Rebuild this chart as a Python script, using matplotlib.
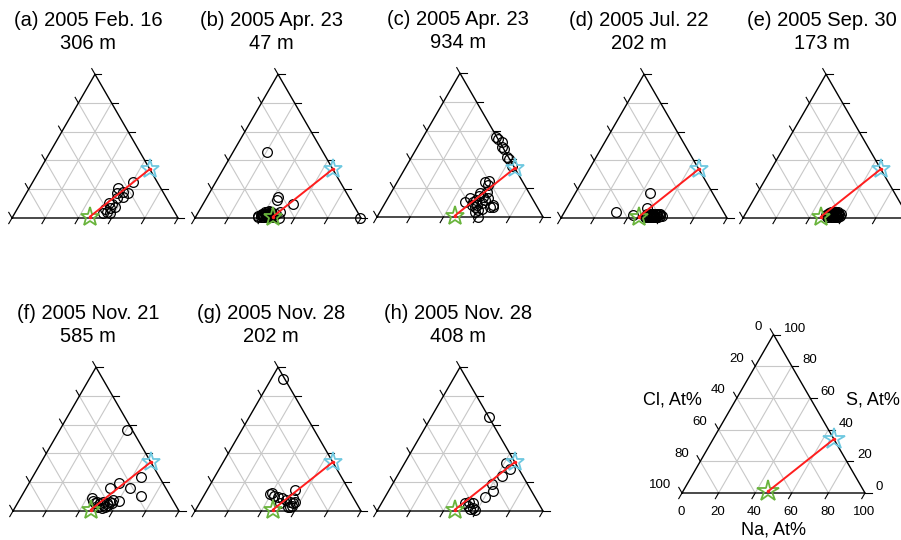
import numpy as np
import matplotlib.pyplot as plt

plt.rcParams['font.family'] = ['Liberation Sans', 'DejaVu Sans']

H = np.sqrt(3) / 2

# end members, Na and S in At%
nacl = (46.5, 1.0)
na2so4 = (66.0, 34.0)

titles = ["(a) 2005 Feb. 16", "(b) 2005 Apr. 23", "(c) 2005 Apr. 23", "(d) 2005 Jul. 22",
          "(e) 2005 Sep. 30", "(f) 2005 Nov. 21", "(g) 2005 Nov. 28", "(h) 2005 Nov. 28"]
depths = ["306 m", "47 m", "934 m", "202 m", "173 m", "585 m", "202 m", "408 m"]

# particle analyses (Na At%, S At%)
a_na = [60.1, 53.7, 61.3, 59.6, 56.6, 55.2, 58.1, 53.0, 55.4, 52.8, 57.9, 54.5, 53.3, 57.2, 55.7]
a_s = [25.3, 20.7, 17.6, 14.8, 13.7, 9.7, 7.9, 6.1, 4.0, 3.7, 18.3, 17.2, 10.6, 3.7, 6.7]

b_na = [20.7, 42.4, 43.0, 54.1, 49.0, 50.2, 99.4,
        38.0, 39.0, 40.0, 41.0, 42.0, 43.0, 44.0, 45.0, 46.0, 44.0, 42.0, 40.0, 39.0, 41.0,
        43.0, 45.0, 46.5, 38.5, 40.5, 44.0, 42.0, 43.5, 37.5, 39.5, 41.5, 45.5, 47.0]
b_s = [45.7, 14.8, 12.5, 9.5, 4.4, 0.3, 0.3,
       0.5, 1.0, 2.0, 1.0, 3.0, 2.0, 1.0, 3.0, 2.0, 4.0, 5.0, 4.0, 3.0, 2.5,
       0.5, 0.5, 1.0, 2.0, 0.5, 2.5, 1.5, 4.0, 1.5, 2.0, 4.0, 1.5, 3.0]

c_na = [44.0, 45.9, 49.1, 51.2, 53.1, 57.2, 59.6, 63.4,
        52.8, 55.0, 55.9, 53.6, 57.3, 60.5, 66.5, 64.7, 47.7, 49.5, 52.7, 55.8, 58.6, 57.2,
        61.0, 52.9, 58.3, 57.2, 54.4, 53.7, 55.7, 60.4, 66.0, 59.2]
c_s = [55.4, 54.3, 52.0, 48.5, 47.1, 41.9, 40.1, 35.5,
       24.6, 25.3, 22.3, 16.9, 17.6, 13.0, 7.2, 6.7, 10.6, 13.0, 10.6, 8.3, 4.9, 3.7,
       0.0, 8.3, 9.5, 13.7, 14.6, 11.8, 6.7, 5.3, 8.1, 11.8]

d_na = [45.0, 30.7, 48.2, 42.1, 60.0,
        50.0, 51.0, 52.0, 53.0, 54.0, 55.0, 56.0, 57.0, 58.0, 52.0, 54.0, 56.0, 51.0, 53.0,
        55.0, 57.0, 53.5, 55.5, 57.5, 50.5, 52.5, 54.5, 56.5, 58.5, 59.0]
d_s = [17.2, 4.4, 6.7, 2.1, 1.4,
       1.0, 2.0, 1.0, 2.5, 1.0, 2.0, 1.0, 2.0, 1.0, 3.0, 3.0, 3.0, 0.5, 0.5,
       0.5, 0.5, 1.5, 1.5, 3.0, 2.5, 2.0, 2.0, 2.5, 2.5, 1.5]

e_na = [49.0, 50.0, 51.0, 52.0, 53.0, 54.0, 55.0, 56.0, 57.0, 52.0, 54.0, 50.0, 51.5, 53.5,
        55.5, 56.5, 54.5, 52.5, 57.5, 53.0, 49.5, 51.0, 55.0, 58.0, 56.0, 53.0]
e_s = [2.0, 3.5, 1.0, 3.0, 2.0, 0.5, 2.5, 1.5, 0.5, 4.0, 4.0, 1.0, 2.0, 3.5,
       3.0, 2.5, 1.0, 0.5, 1.5, 1.0, 3.0, 4.5, 4.0, 2.5, 0.5, 4.5]

f_na = [40.3, 65.2, 62.6, 54.4, 50.5, 71.8, 60.5, 43.0,
        47.2, 49.8, 52.3, 53.8, 55.2, 56.6, 52.5, 49.9, 46.7, 53.9, 55.3, 56.8, 44.4, 51.2]
f_s = [56.4, 23.9, 15.8, 19.2, 15.8, 10.6, 7.0, 8.8,
       6.5, 5.3, 4.2, 5.3, 6.5, 7.7, 1.9, 3.0, 5.3, 3.0, 4.2, 5.3, 7.2, 6.5]

g_na = [7.0, 52.9, 40.0, 39.3, 42.4, 45.2, 47.8, 51.0, 54.0, 56.5, 56.4, 54.7, 54.8, 48.5,
        55.7, 57.0]
g_s = [91.6, 14.6, 12.3, 11.8, 10.7, 10.0, 8.8, 7.7, 6.5, 5.3, 3.7, 3.0, 8.8, 5.3,
       3.0, 6.5]

h_na = [34.7, 60.9, 65.6, 62.8, 60.1, 62.6, 60.1,
        50.3, 52.4, 55.0, 53.3, 56.9, 55.4, 58.7]
h_s = [65.6, 33.6, 29.0, 24.6, 18.8, 14.1, 10.0,
       5.3, 6.5, 5.3, 3.5, 2.3, 1.2, 0.7]

panel_na = [a_na, b_na, c_na, d_na, e_na, f_na, g_na, h_na]
panel_s = [a_s, b_s, c_s, d_s, e_s, f_s, g_s, h_s]

# pixel layout: left vertex x, base y, side length, title shift
lefts = [12, 195, 377, 561, 743, 13, 195, 377]
bases = [218, 218, 217, 218, 218, 511, 511, 511]
title_dx = [-7, -7, -2, -5, -4, -8, -7, -2]
side = 166

fig = plt.figure(figsize=(9.01, 5.4), dpi=100)


def tern(na, s):
    na = np.asarray(na, dtype=float) / 100
    s = np.asarray(s, dtype=float) / 100
    return na + s / 2, s * H


def add_panel(left, base, width):
    ax = fig.add_axes([left / 901, (540 - base) / 540, width / 901, width * H / 540])
    ax.set_xlim(0, 1)
    ax.set_ylim(0, H)
    ax.axis('off')
    grid = dict(color='#c8c8c8', lw=0.8, zorder=1)
    for v in [0.2, 0.4, 0.6, 0.8]:
        ax.plot([v / 2, 1 - v / 2], [v * H, v * H], **grid)
        ax.plot([v, v + (1 - v) / 2], [0, (1 - v) * H], **grid)
        ax.plot([1 - v, (1 - v) / 2], [0, (1 - v) * H], **grid)
    ax.plot([0, 1, 0.5, 0], [0, 0, H, 0], color='black', lw=1.0, zorder=2, clip_on=False)
    tl = 6.5 / width
    tick = dict(color='black', lw=0.8, zorder=2, clip_on=False)
    for v in np.linspace(0, 1, 6):
        ax.plot([v, v - 0.5 * tl], [0, -H * tl], **tick)
        ax.plot([1 - v / 2, 1 - v / 2 + tl], [v * H, v * H], **tick)
        ax.plot([(1 - v) / 2, (1 - v) / 2 - 0.5 * tl], [(1 - v) * H, (1 - v) * H + H * tl], **tick)
    return ax


def end_members(ax, ms):
    x, y = tern([nacl[0], na2so4[0]], [nacl[1], na2so4[1]])
    ax.plot(x[0], y[0], marker='*', ms=ms, mfc='none', mec='#69b43c', mew=1.3,
            zorder=4, clip_on=False)
    ax.plot(x[1], y[1], marker='*', ms=ms, mfc='none', mec='#6ec8e0', mew=1.3,
            zorder=4, clip_on=False)
    ax.plot(x, y, color='#ff1e1e', lw=1.4, zorder=5, marker='o', ms=1.5, clip_on=False)


for i in range(8):
    ax = add_panel(lefts[i], bases[i], side)
    x, y = tern(panel_na[i], panel_s[i])
    ax.plot(x, y, 'o', ms=7, mfc='none', mec='black', mew=0.9, zorder=3, clip_on=False)
    end_members(ax, 14)
    tx = 0.5 + title_dx[i] / side
    ax.text(tx, H + 48 / side, titles[i], ha='center', va='baseline', fontsize=14.5)
    ax.text(tx, H + 25 / side, depths[i], ha='center', va='baseline', fontsize=14.5)

# key diagram with scales
kw = 183
ax = add_panel(682, 493, kw)
end_members(ax, 16)
tl = 6.5 / kw
for v, lab in zip(np.linspace(0, 1, 6), ['0', '20', '40', '60', '80', '100']):
    ax.text(v - 0.005, -19 / kw, lab, ha='center', va='center', fontsize=9.5)
    ax.text(1 - v / 2 + tl + 4 / kw, v * H + 6 / kw, lab, ha='left', va='center', fontsize=9.5)
    ax.text((1 - v) / 2 - 0.5 * tl - 8 / kw, (1 - v) * H + H * tl + 2 / kw, lab,
            ha='right', va='center', fontsize=9.5)
ax.text(-10 / kw, 93 / kw, 'Cl, At%', ha='center', va='center', fontsize=13)
ax.text(191 / kw, 93 / kw, 'S, At%', ha='center', va='center', fontsize=13)
ax.text(0.5, -37 / kw, 'Na, At%', ha='center', va='center', fontsize=13)

fig.savefig('out.png', dpi=100)
